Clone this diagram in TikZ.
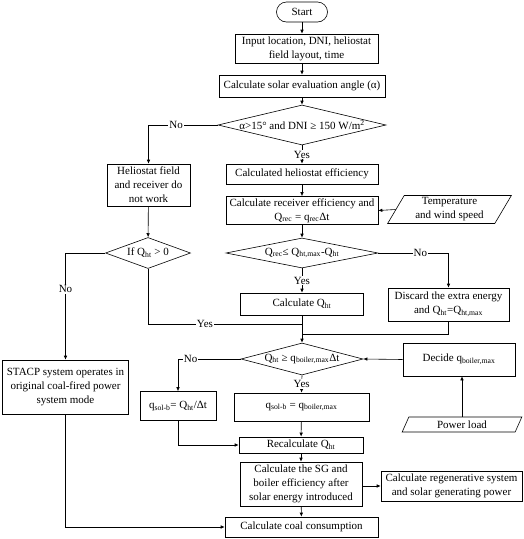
\documentclass[tikz,border=0pt]{standalone}
\usepackage{fontspec}
\setmainfont{Liberation Serif}
\usetikzlibrary{shapes.geometric,arrows.meta}
\newcommand{\sbs}[1]{\textsubscript{#1}}
\begin{document}
\begin{tikzpicture}[x=1pt,y=-1pt, font=\fontsize{11}{14}\selectfont,
  line width=0.6pt,
  box/.style={draw, rectangle, inner sep=1pt, align=center},
  dia/.style={draw, diamond, inner sep=0pt},
  para/.style={draw, trapezium, trapezium left angle=62, trapezium right angle=118,
    trapezium stretches=true, inner sep=0pt, align=center},
  arr/.style={-{Latex[length=4pt,width=3.5pt]}},
  lbl/.style={fill=white, inner sep=1pt},
]
\useasboundingbox (0,0) rectangle (523,539);

\node[box, rounded corners=10pt, minimum width=51, minimum height=20] (start) at (302,12) {Start};
\node[box, minimum width=143, minimum height=29] (inp) at (306.5,48.5) {Input location, DNI, heliostat\\field layout, time};
\node[box, minimum width=166, minimum height=22] (calc) at (302,86) {Calculate solar evaluation angle (α)};
\node[dia, minimum width=168, minimum height=40, label={center:α>15° and DNI ≥ 150 W/m\textsuperscript{2}}] (d1) at (302,125) {};
\node[box, minimum width=152, minimum height=20] (he) at (302,174) {Calculated heliostat efficiency};
\node[box, minimum width=83, minimum height=42] (hf) at (148.5,185) {Heliostat field\\and receiver do\\not work};
\node[box, minimum width=152, minimum height=28] (rec) at (302,210.5) {Calculate receiver efficiency and\\Q\sbs{rec} = q\sbs{rec}Δt};
\node[para, minimum width=125, minimum height=28] (temp) at (449.5,209.5) {Temperature\\and wind speed};
\node[dia, minimum width=152, minimum height=30, label={center:Q\sbs{rec}≤ Q\sbs{ht,max}-Q\sbs{ht}}] (d2) at (302,253) {};
\node[dia, minimum width=85, minimum height=31, label={center:If Q\sbs{ht} > 0}] (ifq) at (148,253) {};
\node[box, minimum width=123, minimum height=22] (calcQ) at (302,304) {Calculate Q\sbs{ht}};
\node[box, minimum width=121, minimum height=33] (disc) at (448.5,304.5) {Discard the extra energy\\and Q\sbs{ht}=Q\sbs{ht,max}};
\node[dia, minimum width=122, minimum height=32, label={center:Q\sbs{ht} ≥ q\sbs{boiler,max}Δt}] (d3) at (302,359) {};
\node[box, minimum width=112, minimum height=33] (decide) at (459,359.5) {Decide q\sbs{boiler,max}};
\node[box, minimum width=76, minimum height=29] (qsb1) at (178,406) {q\sbs{sol-b}= Q\sbs{ht}/Δt};
\node[box, minimum width=135, minimum height=28] (qsb2) at (301.5,407) {q\sbs{sol-b} = q\sbs{boiler,max}};
\node[para, trapezium left angle=68, trapezium right angle=112, minimum width=120, minimum height=15] (power) at (462,424.5) {Power load};
\node[box, minimum width=126, minimum height=54] (stacp) at (65.5,387) {STACP system operates in\\original coal-fired power\\system mode};
\node[box, minimum width=124, minimum height=16] (recalc) at (301,445) {Recalculate Q\sbs{ht}};
\node[box, minimum width=122, minimum height=44] (sg) at (301,484) {Calculate the SG and\\boiler efficiency after\\solar energy introduced};
\node[box, minimum width=141, minimum height=30] (regen) at (451.5,486) {Calculate regenerative system\\and solar generating power};
\node[box, minimum width=153, minimum height=20] (coal) at (301.5,527) {Calculate coal consumption};

\coordinate (j1) at (302,324);
\coordinate (j2) at (302,334);

\draw[arr] (start.south) -- (start.south |- inp.north);
\draw[arr] (inp.south -| calc.north) -- (calc.north);
\draw[arr] (calc.south) -- (d1.north);
\draw[arr] (d1.west) -| node[lbl, pos=0.3]{No} (hf.north);
\draw[arr] (d1.south) -- node[lbl]{Yes} (he.north);
\draw[arr] (he) -- (rec);
\draw[arr] (temp.west) -- (rec.east);
\draw[arr] (rec) -- (d2);
\draw[arr] (d2.east) -| node[lbl, pos=0.3]{No} (disc.north);
\draw[arr] (d2.south) -- node[lbl]{Yes} (calcQ.north);
\draw[arr] (hf) -- (ifq);
\draw[arr] (ifq.west) -| node[lbl, pos=0.67]{No} (stacp.north);
\draw (ifq.south) |- node[lbl, pos=0.685]{Yes} (j1);
\draw (disc.south) |- (j2);
\draw[arr] (calcQ) -- (d3);
\draw[arr] (d3.west) -| node[lbl, pos=0.4]{No} (qsb1.north);
\draw[arr] (d3.south) -- node[lbl]{Yes} (qsb2.north);
\draw[arr] (decide.west) -- (d3.east);
\draw[arr] (power.north) -- (power.north |- decide.south);
\draw[arr] (qsb2) -- (recalc);
\draw[arr] (qsb1.south) |- (recalc.west);
\draw[arr] (recalc) -- (sg);
\draw[arr] (sg.east |- regen.west) -- (regen.west);
\draw[arr] (sg) -- (coal);
\draw[arr] (stacp.south) |- (coal.west);
\end{tikzpicture}
\end{document}
